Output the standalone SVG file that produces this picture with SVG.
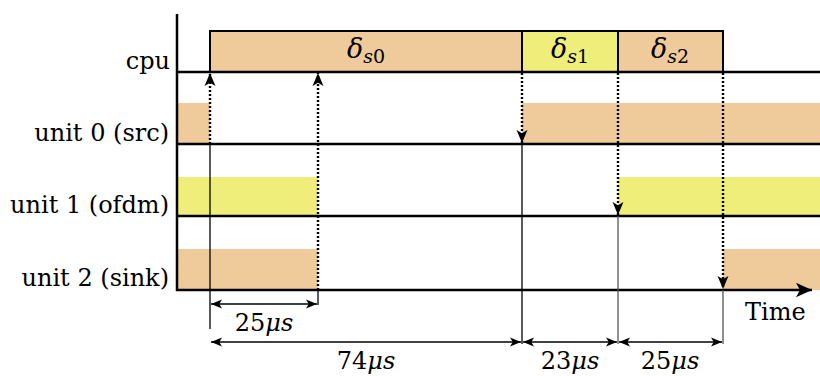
<svg xmlns="http://www.w3.org/2000/svg" width="820" height="376" viewBox="0 0 820 376">
<defs>
<style>
.lbl{font-family:"DejaVu Serif","Liberation Serif",serif;font-size:24px;fill:#000}
.math{font-family:"DejaVu Serif","Liberation Serif",serif;font-size:27px;fill:#000}
.it{font-style:italic}
.sub{font-size:19px}
.tan{fill:#EFCA9B}
.yel{fill:#F0EE7A}
.box{stroke:#000;stroke-width:2}
.base{stroke:#000;stroke-width:2.5;fill:none}
.dot{stroke:#000;stroke-width:2.4;stroke-dasharray:2 2;fill:none}
.thin{stroke:#000;stroke-width:1.3;fill:none}
.gthin{stroke:#555;stroke-width:1.3;fill:none}
</style>
<marker id="ah" viewBox="0 0 10 10" refX="10" refY="5" markerWidth="13" markerHeight="13" markerUnits="userSpaceOnUse" orient="auto-start-reverse">
<path d="M0,0.8 L10,5 L0,9.2 L2.5,5 Z" fill="#000"/>
</marker>
<marker id="ahs" viewBox="0 0 10 10" refX="10" refY="5" markerWidth="11" markerHeight="11" markerUnits="userSpaceOnUse" orient="auto-start-reverse">
<path d="M0,1 L10,5 L0,9 L2.5,5 Z" fill="#000"/>
</marker>
<marker id="ahb" viewBox="0 0 10 10" refX="10" refY="5" markerWidth="16" markerHeight="16" markerUnits="userSpaceOnUse" orient="auto">
<path d="M0,0.5 L10,5 L0,9.5 L2.5,5 Z" fill="#000"/>
</marker>
</defs>

<g id="bands">
<rect class="tan" x="177" y="103" width="33" height="41"/>
<rect class="tan" x="522" y="103" width="298" height="41"/>
<rect class="yel" x="177" y="177" width="141" height="39"/>
<rect class="yel" x="618" y="177" width="202" height="39"/>
<rect class="tan" x="177" y="249" width="141" height="41"/>
<rect class="tan" x="723" y="249" width="97" height="41"/>
</g>

<g id="cpu-s0">
<rect class="tan box" x="210" y="31" width="312" height="41"/>
<text class="math" x="366" y="58" text-anchor="middle"><tspan class="it">δ</tspan><tspan class="sub it" dy="5">s</tspan><tspan class="sub">0</tspan></text>
</g>
<g id="cpu-s1">
<rect class="yel box" x="522" y="31" width="96" height="41"/>
<text class="math" x="570" y="58" text-anchor="middle"><tspan class="it">δ</tspan><tspan class="sub it" dy="5">s</tspan><tspan class="sub">1</tspan></text>
</g>
<g id="cpu-s2">
<rect class="tan box" x="618" y="31" width="105" height="41"/>
<text class="math" x="670" y="58" text-anchor="middle"><tspan class="it">δ</tspan><tspan class="sub it" dy="5">s</tspan><tspan class="sub">2</tspan></text>
</g>

<g id="axes">
<line class="base" x1="177" y1="14" x2="177" y2="291"/>
<line class="base" x1="176" y1="72" x2="820" y2="72"/>
<line class="base" x1="176" y1="144" x2="820" y2="144"/>
<line class="base" x1="176" y1="216" x2="820" y2="216"/>
<line class="base" x1="176" y1="290" x2="812" y2="290" marker-end="url(#ahb)"/>
</g>

<g id="labels">
<text class="lbl" x="170" y="69" text-anchor="end">cpu</text>
<text class="lbl" x="169" y="141" text-anchor="end">unit 0 (src)</text>
<text class="lbl" x="169" y="213" text-anchor="end">unit 1 (ofdm)</text>
<text class="lbl" x="169" y="286" text-anchor="end">unit 2 (sink)</text>
<text class="lbl" x="745" y="320">Time</text>
</g>

<g id="connectors">
<line class="dot" x1="210" y1="144" x2="210" y2="73" marker-end="url(#ah)"/>
<line class="dot" x1="318" y1="290" x2="318" y2="73" marker-end="url(#ah)"/>
<line class="dot" x1="522" y1="73" x2="522" y2="143" marker-end="url(#ah)"/>
<line class="dot" x1="618" y1="73" x2="618" y2="215" marker-end="url(#ah)"/>
<line class="dot" x1="723" y1="73" x2="723" y2="289" marker-end="url(#ah)"/>
<line class="thin" x1="210" y1="144" x2="210" y2="329"/>
<line class="thin" x1="318" y1="290" x2="318" y2="305"/>
<line class="thin" x1="522" y1="144" x2="522" y2="344"/>
<line class="gthin" x1="618" y1="216" x2="618" y2="344"/>
<line class="gthin" x1="723" y1="290" x2="723" y2="344"/>
</g>

<g id="dimensions">
<line class="thin" x1="211" y1="304" x2="317" y2="304" marker-start="url(#ahs)" marker-end="url(#ahs)"/>
<line class="thin" x1="211" y1="342" x2="521" y2="342" marker-start="url(#ahs)" marker-end="url(#ahs)"/>
<line class="thin" x1="523" y1="342" x2="617" y2="342" marker-start="url(#ahs)" marker-end="url(#ahs)"/>
<line class="thin" x1="619" y1="342" x2="722" y2="342" marker-start="url(#ahs)" marker-end="url(#ahs)"/>
<text class="lbl" x="264" y="331" text-anchor="middle">25<tspan class="it">μs</tspan></text>
<text class="lbl" x="366" y="369" text-anchor="middle">74<tspan class="it">μs</tspan></text>
<text class="lbl" x="570" y="369" text-anchor="middle">23<tspan class="it">μs</tspan></text>
<text class="lbl" x="670" y="369" text-anchor="middle">25<tspan class="it">μs</tspan></text>
</g>
</svg>
